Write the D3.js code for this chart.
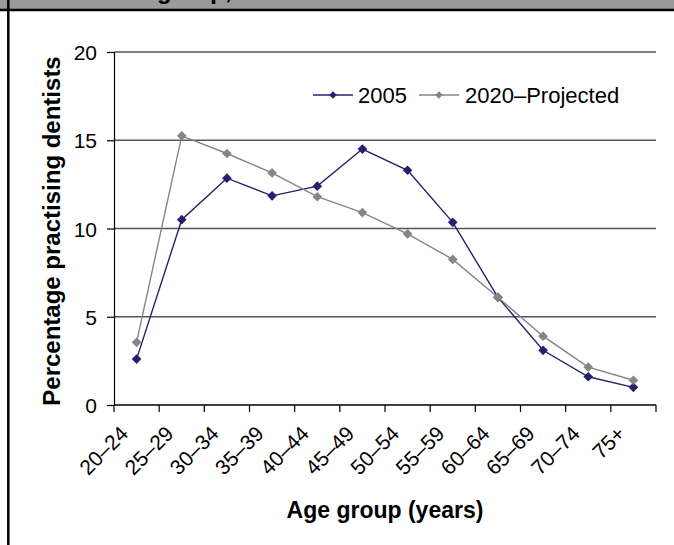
<!DOCTYPE html>
<html>
<head>
<meta charset="utf-8">
<script src="https://cdn.jsdelivr.net/npm/d3@7"></script>
<style>
  body { margin: 0; background: #fff; }
  text { font-family: Arial, "Liberation Sans", sans-serif; }
</style>
</head>
<body>
<div id="wrapper"></div>
<script>
// Data
const ageGroups = ["20–24", "25–29", "30–34", "35–39", "40–44", "45–49",
                   "50–54", "55–59", "60–64", "65–69", "70–74", "75+"]
const values2005 = [2.6, 10.5, 12.85, 11.85, 12.4, 14.5, 13.3, 10.35, 6.1, 3.1, 1.6, 1.0]
const values2020 = [3.55, 15.25, 14.25, 13.15, 11.8, 10.9, 9.7, 8.25, 6.1, 3.9, 2.15, 1.4]
const yTicks = [0, 5, 10, 15, 20]
const seriesNames = ["2005", "2020–Projected"]

function drawChart() {

  // 1. Dimensions
  let dimensions = {
    width: 674,
    height: 545,
    margin: { top: 52, right: 18, bottom: 140, left: 114 },
  }
  dimensions.boundedWidth = dimensions.width - dimensions.margin.left - dimensions.margin.right
  dimensions.boundedHeight = dimensions.height - dimensions.margin.top - dimensions.margin.bottom

  const series = [
    { name: seriesNames[0], values: values2005, color: "#22226e" },
    { name: seriesNames[1], values: values2020, color: "#858585" },
  ]

  // 2. Canvas
  const wrapper = d3.select("#wrapper")
    .append("svg")
      .attr("width", dimensions.width)
      .attr("height", dimensions.height)

  // header strip (the figure title is cut off above the picture)
  wrapper.append("rect")
      .attr("x", 0).attr("y", 0)
      .attr("width", dimensions.width).attr("height", 10)
      .attr("fill", "#9a9a9a")
  wrapper.append("text")
      .attr("x", 157)
      .attr("y", -1.5)
      .style("font-size", "24px")
      .style("font-weight", "bold")
      .text("group, 2005 and 2020")
  wrapper.append("line")
      .attr("x1", 0).attr("x2", dimensions.width)
      .attr("y1", 10).attr("y2", 10)
      .attr("stroke", "#000").attr("stroke-width", 2.5)
  wrapper.append("line")
      .attr("x1", 8.3).attr("x2", 8.3)
      .attr("y1", 0).attr("y2", dimensions.height)
      .attr("stroke", "#000").attr("stroke-width", 2.5)

  const bounds = wrapper.append("g")
      .attr("transform", `translate(${dimensions.margin.left}, ${dimensions.margin.top})`)

  // 3. Scales
  const xScale = d3.scaleBand()
    .domain(ageGroups)
    .range([0, dimensions.boundedWidth])
    .padding(0)

  const yScale = d3.scaleLinear()
    .domain([0, 20])
    .range([dimensions.boundedHeight, 0])

  const xCenter = (d, i) => xScale(ageGroups[i]) + xScale.bandwidth() / 2

  // 4. Gridlines
  bounds.selectAll(".grid")
    .data(yTicks.filter(d => d > 0))
    .enter().append("line")
      .attr("class", "grid")
      .attr("x1", 0).attr("x2", dimensions.boundedWidth)
      .attr("y1", d => yScale(d)).attr("y2", d => yScale(d))
      .attr("stroke", "#555")
      .attr("stroke-width", 1.4)

  // 5. Axes
  const yAxisGenerator = d3.axisLeft(yScale)
    .tickValues(yTicks)
    .tickSize(7)
    .tickPadding(10)

  const yAxis = bounds.append("g")
    .call(yAxisGenerator)
  yAxis.select(".domain").attr("stroke", "#000").attr("stroke-width", 1.2)
  yAxis.selectAll(".tick line").attr("stroke", "#000").attr("stroke-width", 1.2)
  yAxis.selectAll(".tick text")
      .attr("fill", "#000")
      .style("font-size", "21px")
      .attr("dy", "0.36em")

  // x axis: ticks on category boundaries
  const xEdges = ageGroups.map(d => xScale(d)).concat([dimensions.boundedWidth])
  const xAxis = bounds.append("g")
      .attr("transform", `translate(0, ${dimensions.boundedHeight})`)
  xAxis.append("line")
      .attr("x1", 0).attr("x2", dimensions.boundedWidth)
      .attr("stroke", "#000").attr("stroke-width", 1.4)
  xAxis.selectAll(".xtick")
    .data(xEdges)
    .enter().append("line")
      .attr("class", "xtick")
      .attr("x1", d => d).attr("x2", d => d)
      .attr("y1", 0).attr("y2", 7)
      .attr("stroke", "#000").attr("stroke-width", 1.2)
  xAxis.selectAll(".xlabel")
    .data(ageGroups)
    .enter().append("text")
      .attr("class", "xlabel")
      .attr("text-anchor", "end")
      .attr("transform", d => `translate(${xScale(d) + xScale.bandwidth() / 2 - 7}, ${30}) rotate(-45)`)
      .style("font-size", "21px")
      .text(d => d)

  // axis titles
  wrapper.append("text")
      .attr("x", 385)
      .attr("y", 518)
      .attr("text-anchor", "middle")
      .style("font-size", "23px")
      .style("font-weight", "bold")
      .text("Age group (years)")

  wrapper.append("text")
      .attr("transform", `translate(60, ${231}) rotate(-90)`)
      .attr("text-anchor", "middle")
      .style("font-size", "24px")
      .style("font-weight", "bold")
      .text("Percentage practising dentists")

  // 6. Lines and markers
  const lineGenerator = d3.line()
    .x(xCenter)
    .y(d => yScale(d))

  const diamond = d3.symbol().type(d3.symbolDiamond2)

  series.forEach(s => {
    bounds.append("path")
        .datum(s.values)
        .attr("d", lineGenerator)
        .attr("fill", "none")
        .attr("stroke", s.color)
        .attr("stroke-width", 1.4)
    bounds.selectAll(null)
      .data(s.values)
      .enter().append("path")
        .attr("d", diamond.size(60))
        .attr("transform", (d, i) => `translate(${xCenter(d, i)}, ${yScale(d)})`)
        .attr("fill", s.color)
  })

  // 7. Legend
  const legendItems = [
    { x: 313, textX: 358 },
    { x: 419, textX: 465 },
  ]
  const legend = wrapper.append("g")
  series.forEach((s, i) => {
    const item = legend.append("g")
    item.append("line")
        .attr("x1", legendItems[i].x).attr("x2", legendItems[i].x + 40)
        .attr("y1", 95).attr("y2", 95)
        .attr("stroke", s.color).attr("stroke-width", 1.4)
    item.append("path")
        .attr("d", diamond.size(36))
        .attr("transform", `translate(${legendItems[i].x + 20}, 95)`)
        .attr("fill", s.color)
    item.append("text")
        .attr("x", legendItems[i].textX)
        .attr("y", 95)
        .attr("dy", "0.36em")
        .style("font-size", "22px")
        .text(s.name)
  })
}
drawChart()
</script>
</body>
</html>
